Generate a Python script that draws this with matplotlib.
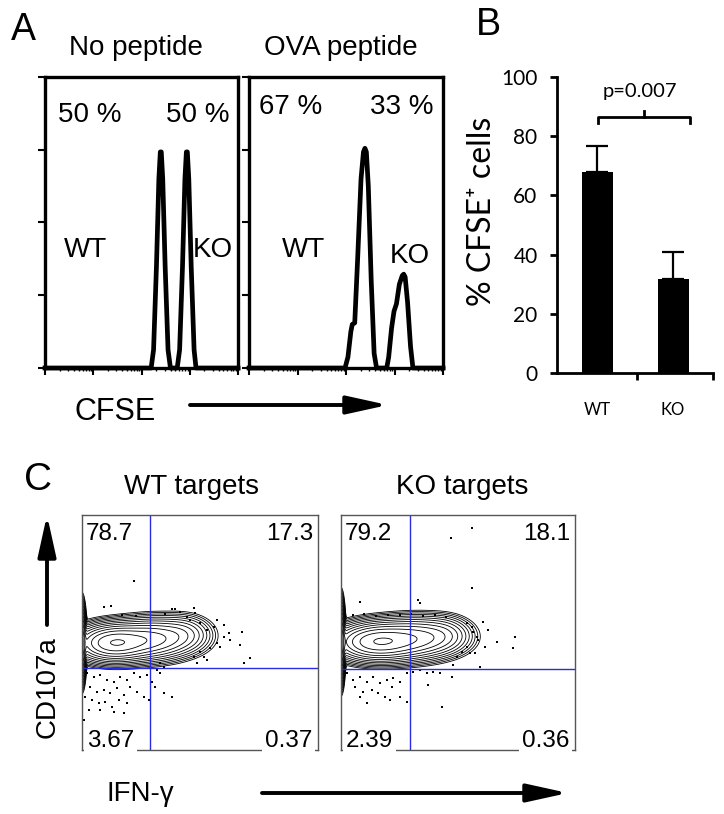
import numpy as np
import matplotlib
matplotlib.use('Agg')
import matplotlib.pyplot as plt

plt.rcParams['font.family'] = ['Liberation Sans', 'DejaVu Sans']

# ---- panel A: CFSE histograms (x in log decades, y in tick units 0-4)
no_pep_x = [0, 2.20, 2.25, 2.31, 2.36, 2.39, 2.41, 2.44, 2.49, 2.55, 2.60,
            2.74, 2.79, 2.85, 2.90, 2.93, 2.95, 2.98, 3.03, 3.09, 3.13, 4.0]
no_pep_y = [0, 0, 0.25, 1.4, 2.6, 2.97, 2.97, 2.6, 1.4, 0.25, 0,
            0, 0.25, 1.4, 2.6, 2.97, 2.97, 2.6, 1.4, 0.25, 0, 0]
ova_x = [0, 1.98, 2.04, 2.10, 2.13, 2.18, 2.24, 2.31, 2.36, 2.39, 2.42, 2.46,
         2.52, 2.58, 2.63, 2.84, 2.88, 2.94, 2.99, 3.04, 3.10, 3.16, 3.19,
         3.22, 3.27, 3.33, 3.38, 4.0]
ova_y = [0, 0, 0.15, 0.5, 0.6, 0.62, 1.5, 2.6, 2.97, 3.02, 2.97, 2.5,
         1.2, 0.2, 0, 0, 0.15, 0.55, 0.78, 0.88, 1.15, 1.27, 1.29,
         1.25, 0.9, 0.3, 0, 0]

# ---- panel B: % CFSE+ cells
groups = ['WT', 'KO']
mean_pct = [67.8, 31.8]
err_pct = [8.9, 9.1]
p_text = 'p=0.007'

# ---- panel C: contour populations (axis units 0-100), gaussian pieces
wt_cx = [0, 13, 24, 33, 43]
wt_cy = [45.5, 45.5, 46.5, 48, 49.5]
wt_sx = [0.7, 7, 9, 8, 5.5]
wt_sy = [6.5, 3.4, 3.7, 3.8, 3.6]
wt_w = [1.2, 1.0, 0.5, 0.25, 0.09]

ko_cx = [0, 15, 26, 35, 44]
ko_cy = [46, 46, 47, 48, 49]
ko_sx = [0.7, 8, 9, 8, 5.5]
ko_sy = [7, 3.5, 3.8, 3.8, 3.6]
ko_w = [1.2, 1.0, 0.5, 0.3, 0.1]

wt_dots_x = [22.2, 9.2, 12.3, 17, 23, 35, 38, 39.5, 41.7, 44.5, 47.3, 48.0, 45.9, 50.1, 53.0,
             55.8, 57.2, 60.0, 62.1, 62.9, 60.0, 57.2, 54.4, 58.6, 67.8, 67.1,
             71.3, 68.5, 51.6, 53.0, 48.7, 47.3, 50.1, 33.2, 34.6,
             2.1, 4.9, 7.8, 10.6, 13.4, 16.2, 19.1, 21.9, 24.7, 27.5, 3.5, 6.4,
             9.2, 12.0, 14.8, 17.7, 20.5, 23.3, 26.1, 1.4, 4.2, 7.1, 9.9, 12.7,
             15.5, 19.1, 2.8, 7.8, 13.4, 17.7, 29.7, 31.8, 34.6, 38.1, 28.2,
             31.1, 33.2, 0.7]
wt_dots_y = [72.1, 60.7, 61.3, 57.5, 57, 58, 60, 59.9, 58.9, 56.7, 60.3, 58.2, 55.3, 53.9, 51.1,
             52.5, 55.3, 53.2, 49.6, 46.8, 48.2, 45.4, 43.3, 44.0, 50.4, 44.7,
             39.0, 37.2, 39.7, 38.3, 36.9, 39.7, 41.8, 36.9, 35.5,
             32.6, 31.2, 31.9, 29.8, 29.1, 31.2, 29.8, 32.6, 31.2, 31.9, 27.0, 24.8,
             25.5, 24.1, 26.2, 23.4, 27.0, 24.8, 22.7, 22.7, 21.3, 19.9, 20.6, 18.4,
             21.3, 19.9, 17.0, 17.0, 16.3, 15.6, 29.1, 34.0, 24.1, 22.7, 21.3,
             27.0, 32.6, 12.8]

ko_dots_x = [55.8, 47.0, 55.8, 33.0, 33.8, 8.1, 5, 10, 15, 20, 25, 30, 35, 40, 45,
             53.7, 55.8, 56.6, 58.0, 58.7, 60.8, 63.0, 66.5, 61.5, 57.3, 59.4,
             74.4, 73.4, 53.7, 55.1, 48.0, 49.4, 51.6,
             2.4, 5.3, 8.1, 11.0, 13.8, 16.7, 19.5, 22.4, 25.2, 28.1, 30.9, 33.8,
             36.6, 39.5, 42.3, 6.0, 9.5, 13.1, 16.0, 18.8, 21.7, 28.1, 25.2, 8.1,
             11.0, 20.9, 37.3, 47.3, 43.0]
ko_dots_y = [94.6, 90.4, 68.8, 63.8, 62.4, 63.1, 57.4, 57.8, 57.2, 57.6, 57.3, 57.8, 57.1, 57.5, 56.8,
             53.9, 52.5, 50.4, 48.2, 46.8, 54.6, 51.1, 46.1, 44.0, 41.1, 35.5,
             48.2, 43.3, 44.0, 41.1, 36.2, 39.7, 41.8,
             32.6, 29.8, 31.2, 29.1, 31.2, 28.4, 29.8, 30.5, 29.1, 32.6, 33.3, 34.0,
             32.6, 33.3, 32.6, 27.0, 24.8, 25.5, 24.1, 22.7, 27.0, 20.6, 22.7, 22.7,
             19.9, 21.3, 27.7, 31.2, 18.4]

wt_quads = ['78.7', '17.3', '3.67', '0.37']
ko_quads = ['79.2', '18.1', '2.39', '0.36']
wt_gate = (29, 35)
ko_gate = (29.5, 34.5)

W, H = 724, 814
fig = plt.figure(figsize=(7.24, 8.14), dpi=100)


def box(x0, y0, x1, y1):
    return [x0 / W, 1 - y1 / H, (x1 - x0) / W, (y1 - y0) / H]


def label(x, y, s, **kw):
    fig.text(x / W, 1 - y / H, s, ha=kw.pop('ha', 'center'), va=kw.pop('va', 'center'), **kw)


def arrow(x0, y0, x1, y1):
    fig.add_artist(matplotlib.patches.FancyArrowPatch(
        (x0 / W, 1 - y0 / H), (x1 / W, 1 - y1 / H), transform=fig.transFigure,
        arrowstyle='-|>,head_length=2.5,head_width=0.55', mutation_scale=10,
        lw=2.8, color='k', shrinkA=0, shrinkB=0))


minor = [d + np.log10(k) for d in range(4) for k in range(2, 10)]
for pos, hx, hy in [((45, 77, 238, 368), no_pep_x, no_pep_y),
                    ((249, 77, 443, 368), ova_x, ova_y)]:
    ax = fig.add_axes(box(*pos))
    ax.plot(hx, hy, color='k', lw=3.4, solid_joinstyle='round', clip_on=False)
    ax.set_xlim(0, 4)
    ax.set_ylim(0, 4)
    ax.set_xticks(range(5))
    ax.set_xticks(minor, minor=True)
    ax.set_yticks(range(5))
    ax.set_xticklabels([])
    ax.set_yticklabels([])
    ax.tick_params(which='major', direction='out', length=5, width=1.5)
    ax.tick_params(which='minor', direction='out', length=2.5, width=1)
    for s in ax.spines.values():
        s.set_linewidth(2.4)

label(23, 30, 'A', size=27)
label(136, 48, 'No peptide', size=20)
label(341, 48, 'OVA peptide', size=20)
label(90, 115, '50 %', size=20)
label(198, 115, '50 %', size=20)
label(291, 107, '67 %', size=20)
label(402, 107, '33 %', size=20)
label(85, 250, 'WT', size=20)
label(213, 250, 'KO', size=20)
label(304, 250, 'WT', size=20)
label(410, 256, 'KO', size=20)
label(115, 412, 'CFSE', size=22)
arrow(190, 405, 388, 405)

# ---- B
axb = fig.add_axes(box(557, 77, 713, 373))
axb.bar([0, 1], mean_pct, width=0.41, color='k')
axb.errorbar([0, 1], mean_pct, yerr=[[0, 0], err_pct], fmt='none', ecolor='k',
             elinewidth=1.6, capsize=8, capthick=1.6)
axb.plot([0.007, 0.007, 1.22, 1.22], [84.5, 86.5, 86.5, 84.5], color='k', lw=2)
axb.plot([0.61, 0.61], [86.5, 88.5], color='k', lw=2)
axb.set_xlim(-0.53, 1.52)
axb.set_ylim(0, 100)
axb.set_yticks(range(0, 101, 20))
axb.set_xticks([0.52, 1.52])
axb.set_xticklabels([])
axb.spines['top'].set_visible(False)
axb.spines['right'].set_visible(False)
axb.spines['left'].set_linewidth(2)
axb.spines['bottom'].set_linewidth(2)
axb.tick_params(direction='out', length=5, width=2, labelsize=15, pad=9)
for t in axb.get_yticklabels():
    t.set_family(['Lato', 'DejaVu Sans'])
label(488, 25, 'B', size=27)
label(640, 92, p_text, size=14.5, family=['Lato', 'DejaVu Sans'])
label(597, 410, groups[0], size=12, family=['Lato', 'DejaVu Sans'])
label(673, 410, groups[1], size=12, family=['Lato', 'DejaVu Sans'])
label(482, 211, '% CFSE\u207a cells', size=23, rotation=90, family=['Lato', 'DejaVu Sans'])

# ---- C
gx, gy = np.meshgrid(np.linspace(0, 100, 400), np.linspace(0, 100, 400))
levels = np.geomspace(0.005, 1.2, 13)
panels = [((82, 515, 318, 750), wt_cx, wt_cy, wt_sx, wt_sy, wt_w, wt_dots_x, wt_dots_y, wt_quads, wt_gate),
          ((341, 515, 575, 750), ko_cx, ko_cy, ko_sx, ko_sy, ko_w, ko_dots_x, ko_dots_y, ko_quads, ko_gate)]
for pos, cx, cy, sx, sy, w, dx, dy, quads, gate in panels:
    ax = fig.add_axes(box(*pos))
    z = np.zeros_like(gx)
    for a, b, c, d, e in zip(cx, cy, sx, sy, w):
        z += e * np.exp(-((gx - a) ** 2 / (2 * c ** 2) + (gy - b) ** 2 / (2 * d ** 2)))
    ax.contour(gx, gy, z, levels=levels, colors='k', linewidths=0.6)
    ax.scatter(dx, dy, s=4, marker='s', c='k', linewidths=0)
    ax.axvline(gate[0], color='#2a2ae0', lw=1)
    ax.axhline(gate[1], color='#2a2ae0', lw=1)
    ax.set_xlim(0, 100)
    ax.set_ylim(0, 100)
    ax.set_xticks([])
    ax.set_yticks([])
    for s in ax.spines.values():
        s.set_linewidth(1)
        s.set_color('#555555')
    ax.text(0.015, 0.965, quads[0], transform=ax.transAxes, size=17.5, ha='left', va='top')
    ax.text(0.98, 0.965, quads[1], transform=ax.transAxes, size=17.5, ha='right', va='top')
    wb = dict(boxstyle='square,pad=0.12', fc='white', ec='none')
    ax.text(0.02, 0.012, quads[2], transform=ax.transAxes, size=17.5, ha='left',
            va='baseline', bbox=wb, zorder=5, clip_on=False)
    ax.text(0.975, 0.012, quads[3], transform=ax.transAxes, size=17.5, ha='right',
            va='baseline', bbox=wb, zorder=5, clip_on=False)

label(38, 480, 'C', size=28)
label(191, 487, 'WT targets', size=20)
label(462, 487, 'KO targets', size=20)
label(48, 687, 'CD107a', size=20, rotation=90)
arrow(47, 625, 47, 515)
label(140, 794, 'IFN-\u03b3', size=20)
arrow(262, 793, 568, 793)

fig.savefig('out.png', dpi=100)
